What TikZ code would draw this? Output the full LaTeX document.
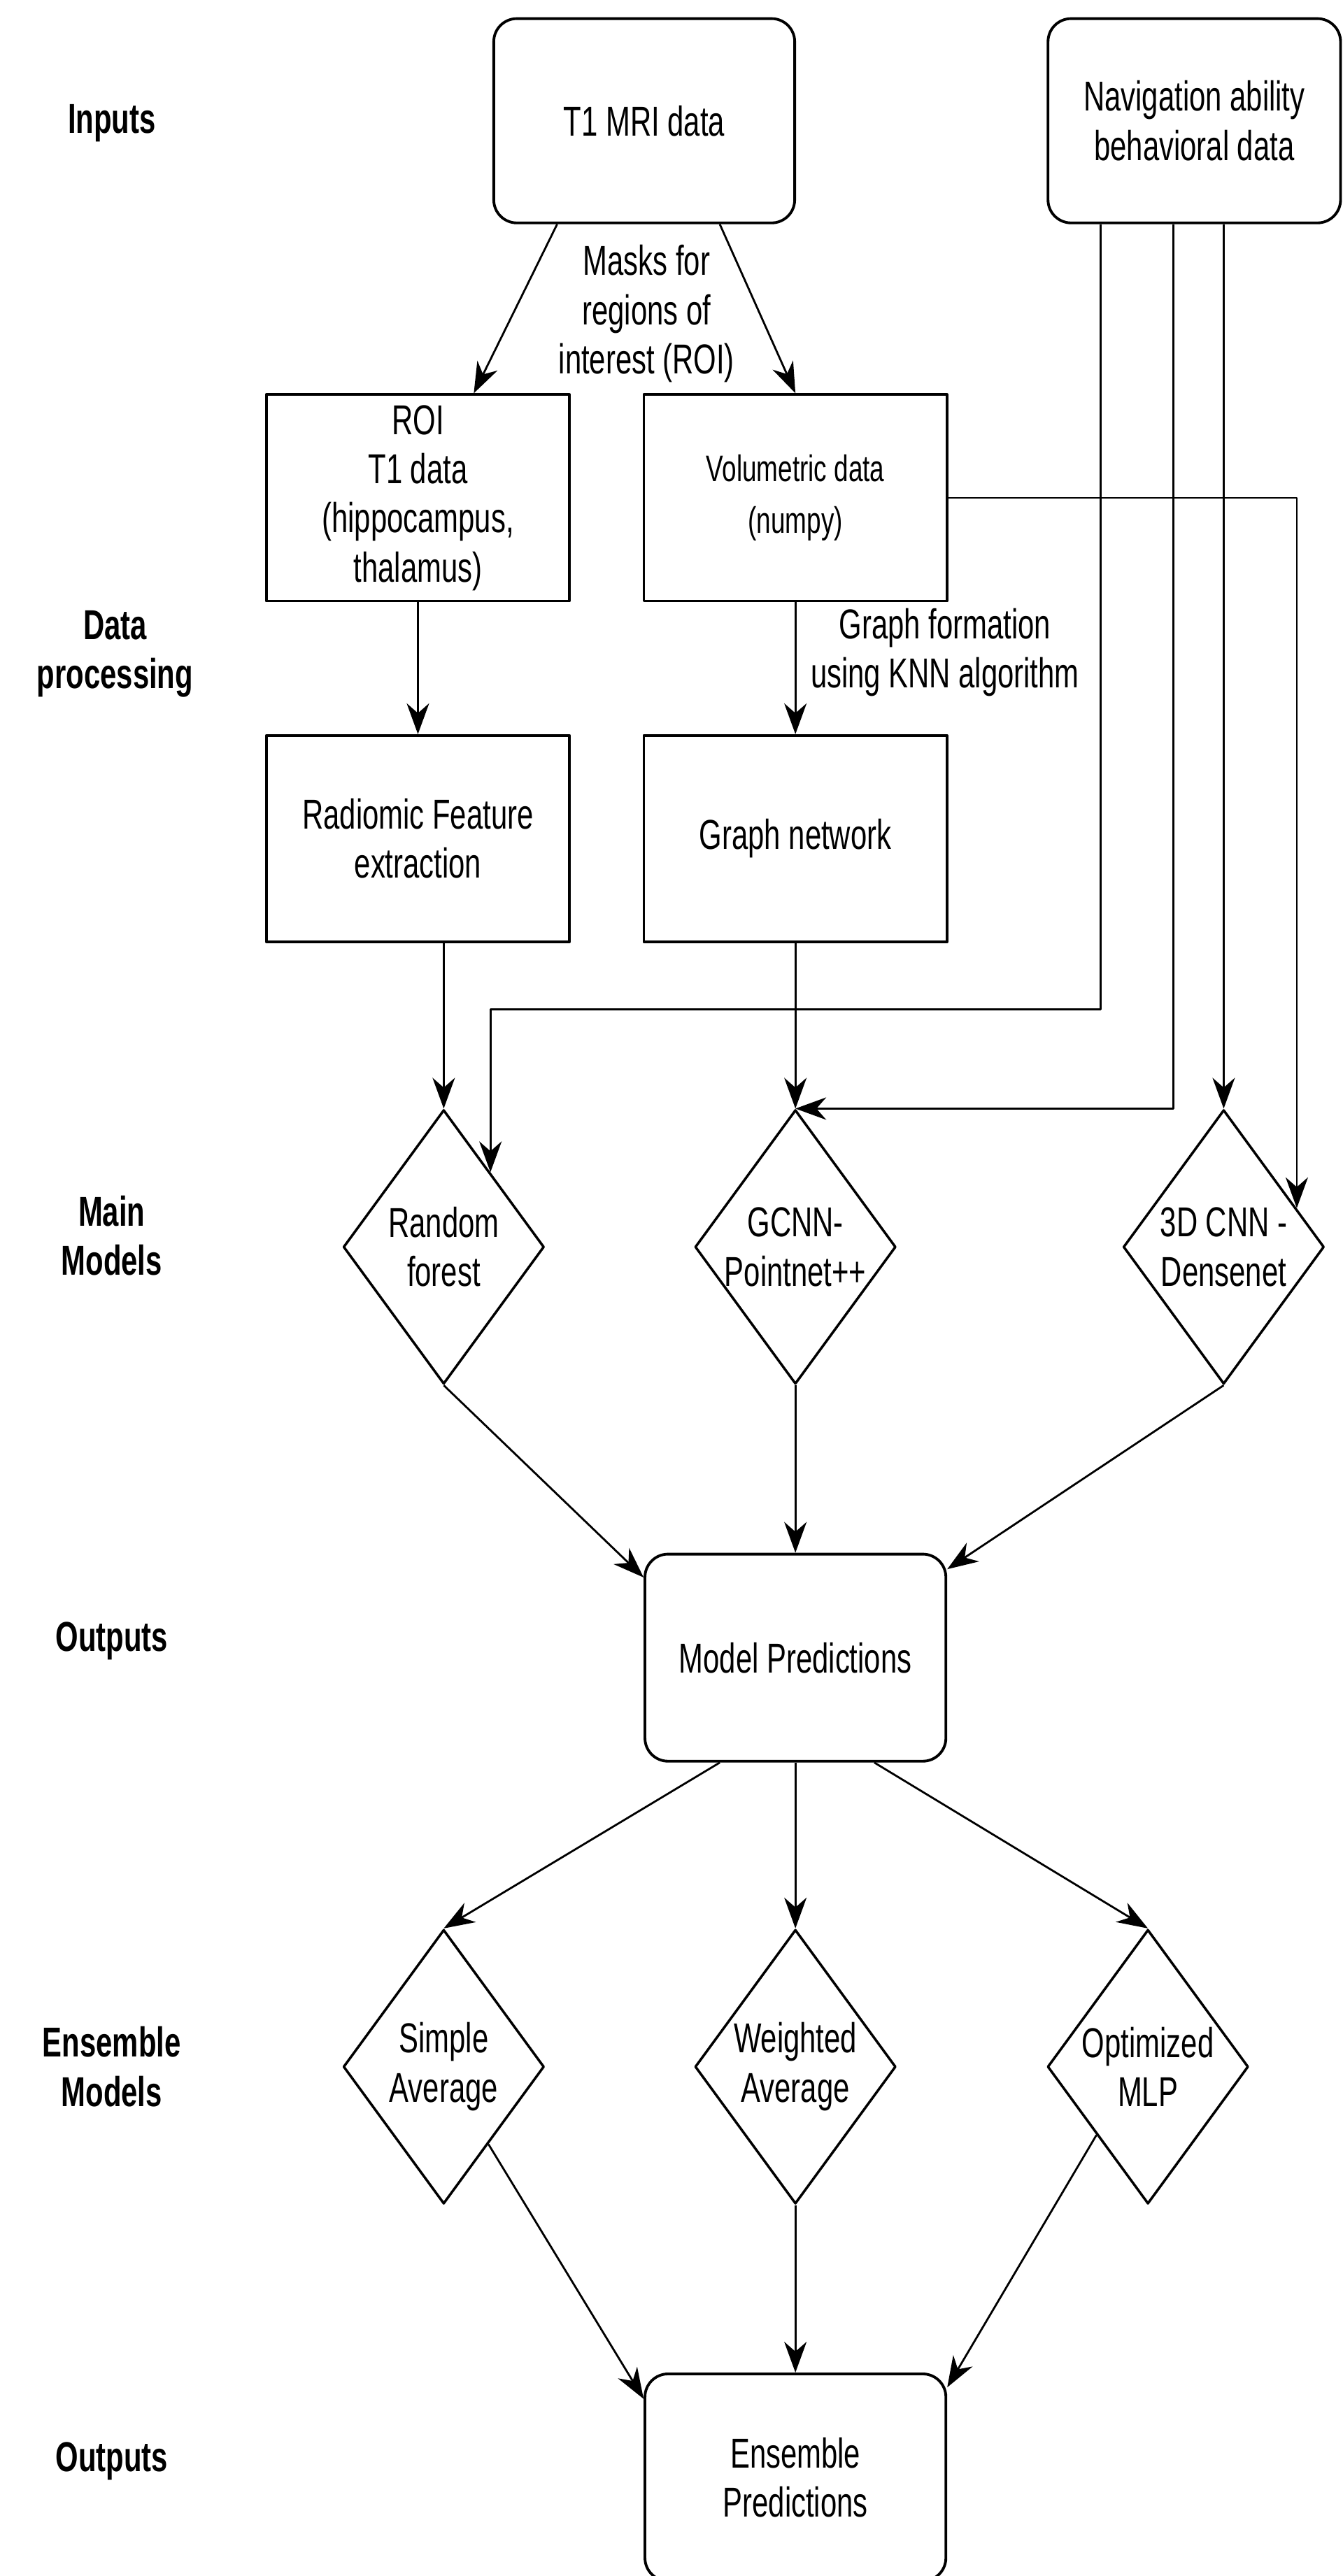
\documentclass[tikz,border=0pt]{standalone}
\usepackage{fontspec}
\setmainfont{Liberation Sans}[FakeStretch=0.7]
\usetikzlibrary{shapes.geometric,arrows.meta,calc}

\begin{document}
\begin{tikzpicture}[x=0.02349cm, y=-0.02349cm, line join=round,
    every node/.style={font=\fontsize{17pt}{20pt}\selectfont, align=center, inner sep=0pt},
    rbox/.style={draw, line width=1.1pt, rounded corners=0.33cm, minimum width=4.3cm, minimum height=2.92cm},
    sbox/.style={draw, line width=1.1pt, minimum width=4.33cm, minimum height=2.95cm},
    dia/.style={draw, diamond, aspect=0.73, line width=1pt, minimum width=2.87cm, minimum height=3.92cm},
    lbl/.style={font=\fontsize{17pt}{20pt}\selectfont\bfseries},
    arr/.style={line width=0.8pt, -{Stealth[length=4.4mm, width=3.2mm, inset=1.4mm]}}]
      \useasboundingbox (0,0) rectangle (817,1568);

      \node[lbl] (inputs) at (68,75) {Inputs};
      \node[lbl] (dproc) at (70,398) {Data\\processing};
      \node[lbl] (mainm) at (68,752) {Main\\Models};
      \node[lbl] (out1) at (68,999) {Outputs};
      \node[lbl] (ensm) at (68,1258) {Ensemble\\Models};
      \node[lbl] (out2) at (68,1498) {Outputs};

      \node[rbox] (t1) at (392,73.5) {T1 MRI data};
      \node[rbox, minimum width=4.18cm] (nav) at (726.7,73.5) {Navigation ability\\behavioral data};

      \node[sbox] (roi) at (254.3,303) {ROI\\T1 data\\(hippocampus,\\thalamus)};
      \node[sbox, font=\fontsize{15pt}{21pt}\selectfont] (vol) at (484,303) {Volumetric data\\(numpy)};
      \node[sbox] (rad) at (254.3,510.5) {Radiomic Feature\\extraction};
      \node[sbox] (graph) at (484,510.5) {Graph network};

      \node[dia] (rf) at (270,759) {Random\\forest};
      \node[dia] (gcnn) at (484,759) {GCNN-\\Pointnet++};
      \node[dia] (cnn3d) at (744.6,759) {3D CNN -\\Densenet};

      \node[rbox, minimum height=2.96cm] (mp) at (484,1009) {Model Predictions};

      \node[dia] (savg) at (270,1258) {Simple\\Average};
      \node[dia] (wavg) at (484,1258) {Weighted\\Average};
      \node[dia] (mlp) at (698.5,1258) {Optimized\\MLP};

      \node[rbox, minimum height=2.96cm] (ep) at (484,1508) {Ensemble\\Predictions};

      \node (masks) at (393.4,191) {Masks for\\regions of\\interest (ROI)};
      \node (knn) at (575,397) {Graph formation\\using KNN algorithm};

      \coordinate (n1) at ($(nav.south)+(-57,0)$);
      \coordinate (n2) at ($(nav.south)+(-12.8,0)$);
      \coordinate (k1) at (rf.58 |- 0,614.5);

      \draw[arr] ($(t1.south)+(-53,0)$) -- ($(roi.north)+(34,0)$);
      \draw[arr] ($(t1.south)+(46,0)$) -- (vol.north);
      \draw[arr] (roi) -- (rad);
      \draw[arr] (vol) -- (graph);
      \draw[arr] (rad.south -| rf.north) -- (rf.north);
      \draw[arr] (graph) -- (gcnn);
      \draw[arr] (vol.east) -| (cnn3d.28);
      \draw[arr] (n1) |- (k1) -- (rf.58);
      \draw[arr] (n2) |- (gcnn.north);
      \draw[arr] (cnn3d.north |- nav.south) -- (cnn3d.north);

      \draw[arr] (rf.south) -- ($(mp.north west)+(0,15)$);
      \draw[arr] (gcnn) -- (mp);
      \draw[arr] (cnn3d.south) -- ($(mp.north east)+(0,10)$);

      \draw[arr] ($(mp.south)+(-46,0)$) -- (savg.north);
      \draw[arr] (mp) -- (wavg);
      \draw[arr] ($(mp.south)+(48,0)$) -- (mlp.north);

      \draw[arr] (savg.-60) -- ($(ep.north west)+(0,16)$);
      \draw[arr] (wavg) -- (ep);
      \draw[arr] (mlp.233) -- ($(ep.north east)+(0,9)$);
    \end{tikzpicture}
\end{document}
